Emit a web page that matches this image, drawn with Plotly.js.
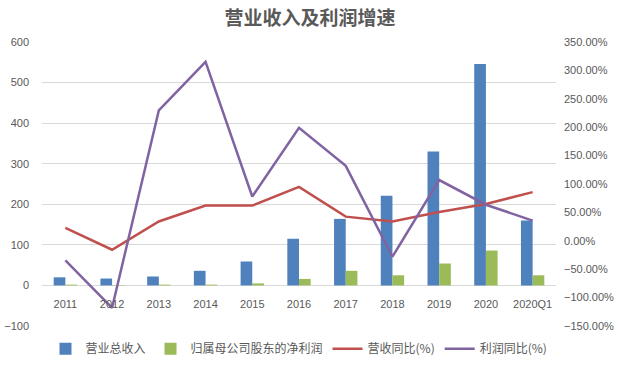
<!DOCTYPE html>
<html>
<head>
<meta charset="utf-8">
<script src="https://cdn.plot.ly/plotly-3.0.1.min.js"></script>
<style>html,body{margin:0;padding:0;background:#fff;}#chart{width:620px;height:375px;}</style>
</head>
<body>
<div id="chart"></div>
<script>
const categories = ['2011','2012','2013','2014','2015','2016','2017','2018','2019','2020','2020Q1'];
const revenue = [20, 17, 22, 36, 59, 115, 164, 221, 330, 546, 160];
const netProfit = [2, 1, 2, 2, 5, 16, 36, 25, 54, 86, 25];
const revenueYoY = [0.227, -0.157, 0.34, 0.62, 0.62, 0.95, 0.425, 0.34, 0.507, 0.647, 0.857];
const profitYoY = [-0.344, -1.18, 2.295, 3.15, 0.78, 1.99, 1.32, -0.28, 1.07, 0.635, 0.355];
const names = ['营业总收入', '归属母公司股东的净利润', '营收同比(%)', '利润同比(%)'];

const cjk = '"Noto Sans CJK SC", "Noto Sans", sans-serif';
const grey = '#595959';

const traces = [
  {type:'bar', x:categories, y:revenue, name:names[0], marker:{color:'#4f81bd'}},
  {type:'bar', x:categories, y:netProfit, name:names[1], marker:{color:'#9bbb59'}},
  {type:'scatter', mode:'lines', x:categories, y:revenueYoY, name:names[2], yaxis:'y2', line:{color:'#c0504d', width:2.5}},
  {type:'scatter', mode:'lines', x:categories, y:profitYoY, name:names[3], yaxis:'y2', line:{color:'#8064a2', width:2.5}}
];

const layout = {
  width:620, height:375,
  margin:{l:42, r:64, t:42, b:44},
  paper_bgcolor:'#fff', plot_bgcolor:'#fff',
  font:{family:cjk, color:grey, size:11},
  title:{text:'营业收入及利润增速', x:0.5, xanchor:'center', yref:'container', y:0.952, yanchor:'middle',
         font:{family:cjk, size:19, color:grey, weight:'bold'}},
  barmode:'group', bargap:0.5, bargroupgap:0,
  xaxis:{type:'category', anchor:'free', position:0.14, showgrid:false, showline:false, zeroline:false,
         ticks:'', tickfont:{family:'"Liberation Sans", sans-serif', size:11, color:grey}, ticklabelstandoff:10},
  yaxis:{range:[-100,600], dtick:100, showgrid:true, gridcolor:'#d9d9d9', gridwidth:1,
         zeroline:true, zerolinecolor:'#d9d9d9', zerolinewidth:1, showline:false, ticks:'',
         tickfont:{family:'"Liberation Sans", sans-serif', size:11, color:grey}, ticklabelstandoff:12},
  yaxis2:{overlaying:'y', side:'right', range:[-1.5,3.5], dtick:0.5, tickformat:'.2%',
          showgrid:false, zeroline:false, showline:false, ticks:'',
          tickfont:{family:'"Liberation Sans", sans-serif', size:11, color:grey}, ticklabelstandoff:7},
  showlegend:true,
  legend:{orientation:'h', x:0.5, xanchor:'center', y:-0.08, yanchor:'middle',
          font:{family:cjk, size:12, color:grey}, traceorder:'normal', itemwidth:30, bgcolor:'rgba(0,0,0,0)'}
};

Plotly.newPlot('chart', traces, layout, {displayModeBar:false, staticPlot:true});
</script>
</body>
</html>
